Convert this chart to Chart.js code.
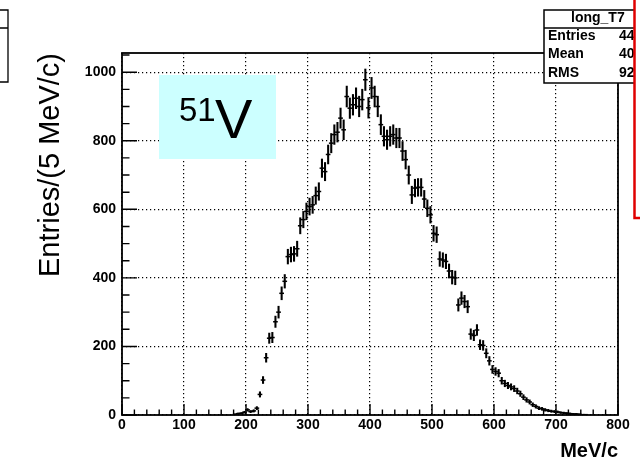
<!DOCTYPE html>
<html>
<head>
<meta charset="utf-8">
<script src="https://cdn.jsdelivr.net/npm/chart.js@4.4.1/dist/chart.umd.min.js"></script>
<style>
  html, body { margin: 0; padding: 0; background: #ffffff; }
  canvas { display: block; }
</style>
</head>
<body>
<canvas id="chart" width="640" height="461"></canvas>
<script>
// Momentum spectrum, 5 MeV/c bins (bin centres in MeV/c)
const binWidth = 5;
const binCenters = [
  182.5, 187.5, 192.5, 197.5, 202.5, 207.5, 212.5, 217.5,
  222.5, 227.5, 232.5, 237.5, 242.5, 247.5, 252.5, 257.5, 262.5, 267.5, 272.5, 277.5, 282.5,
  287.5, 292.5, 297.5, 302.5, 307.5, 312.5, 317.5, 322.5, 327.5, 332.5, 337.5, 342.5,
  347.5, 352.5, 357.5, 362.5, 367.5, 372.5, 377.5, 382.5, 387.5, 392.5, 397.5,
  402.5, 407.5, 412.5, 417.5, 422.5, 427.5, 432.5, 437.5, 442.5, 447.5,
  452.5, 457.5, 462.5, 467.5, 472.5, 477.5, 482.5, 487.5, 492.5, 497.5,
  502.5, 507.5, 512.5, 517.5, 522.5, 527.5, 532.5, 537.5, 542.5, 547.5, 552.5,
  557.5, 562.5, 567.5, 572.5, 577.5, 582.5, 587.5, 592.5, 597.5, 602.5, 607.5,
  612.5, 617.5, 622.5, 627.5, 632.5, 637.5, 642.5, 647.5, 652.5, 657.5,
  662.5, 667.5, 672.5, 677.5, 682.5, 687.5, 692.5, 697.5, 702.5, 707.5,
  712.5, 717.5, 722.5, 727.5, 732.5, 737.5, 742.5, 747.5
];
const entries = [
  2, 4, 5, 8, 15, 10, 12, 20,
  60, 102, 167, 224, 226, 272, 300, 355, 390, 462, 468, 470, 485,
  552, 570, 594, 608, 613, 640, 652, 720, 710, 760, 793, 818,
  825, 866, 832, 929, 895, 905, 924, 900, 920, 978, 896,
  954, 929, 900, 847, 813, 803, 813, 818, 808, 808,
  770, 745, 700, 642, 662, 664, 664, 630, 603, 584,
  530, 526, 455, 452, 448, 420, 402, 400, 321, 341, 331,
  316, 236, 232, 248, 205, 203, 180, 158, 133, 127, 122,
  100, 92, 86, 82, 77, 70, 62, 52, 44, 38,
  30, 25, 20, 18, 15, 13, 11, 10, 9, 7,
  6, 5, 4, 3, 3, 2, 1, 1
];

// Axis ranges and tick spacing
const xRange = [0, 800];
const yRange = [0, 1056];
const xMajorStep = 100, xMinorStep = 20;
const yMajorStep = 200, yMinorStep = 50;

// Texts
const xTitle = 'MeV/c';
const yTitle = 'Entries/(5 MeV/c)';
const isotopeMass = '51';
const isotopeSymbol = 'V';
const statsTitle = 'long_T7';
const statsLabels = ['Entries', 'Mean', 'RMS'];

// Histogram statistics
const nTot = entries.reduce((s, n) => s + n, 0);
const mean = binCenters.reduce((s, x, i) => s + x * entries[i], 0) / nTot;
const rms = Math.sqrt(binCenters.reduce((s, x, i) => s + entries[i] * (x - mean) ** 2, 0) / nTot);
const statsValues = [String(nTot), mean.toFixed(1), rms.toFixed(2)];

// Poisson error bars (vertical) and bin-width bars (horizontal)
const errorBars = binCenters.map((x, i) => {
  const e = Math.sqrt(entries[i]);
  return { x, y: [Math.max(0, entries[i] - e), entries[i] + e] };
});
const centres = binCenters.map((x, i) => ({ x, y: entries[i] }));

const FONT = "'Liberation Sans', Arial, Helvetica, sans-serif";
Chart.defaults.font.family = FONT;
Chart.defaults.color = '#000';

const frameAndLabels = {
  id: 'frameAndLabels',
  afterDraw(chart) {
    const { ctx, chartArea: a, scales: { x, y } } = chart;
    ctx.save();

    // plot frame
    ctx.strokeStyle = '#000';
    ctx.lineWidth = 1.8;
    ctx.strokeRect(a.left, a.top, a.right - a.left, a.bottom - a.top);

    // tick marks pointing into the frame
    ctx.lineWidth = 1.4;
    ctx.beginPath();
    for (let v = xRange[0]; v <= xRange[1]; v += xMinorStep) {
      const px = x.getPixelForValue(v);
      const len = v % xMajorStep === 0 ? 11 : 5.5;
      ctx.moveTo(px, a.bottom);
      ctx.lineTo(px, a.bottom - len);
    }
    for (let v = yRange[0]; v <= yRange[1]; v += yMinorStep) {
      const py = y.getPixelForValue(v);
      const len = v % yMajorStep === 0 ? 15 : 7.5;
      ctx.moveTo(a.left, py);
      ctx.lineTo(a.left + len, py);
    }
    ctx.stroke();

    // isotope label
    ctx.fillStyle = '#ccffff';
    ctx.fillRect(159, 75, 117, 84);
    ctx.fillStyle = '#000';
    ctx.textBaseline = 'alphabetic';
    ctx.textAlign = 'left';
    ctx.font = `33px ${FONT}`;
    ctx.fillText(isotopeMass, 179, 120.5);
    ctx.font = `56px ${FONT}`;
    ctx.fillText(isotopeSymbol, 215, 137.5);

    // statistics box
    ctx.fillStyle = '#fff';
    ctx.fillRect(544, 10, 120, 73);
    ctx.lineWidth = 1.5;
    ctx.strokeStyle = '#000';
    ctx.strokeRect(544, 10, 120, 73);
    ctx.beginPath();
    ctx.moveTo(544, 28); ctx.lineTo(640, 28);
    ctx.stroke();
    ctx.fillStyle = '#000';
    ctx.textBaseline = 'middle';
    ctx.font = `bold 14px ${FONT}`;
    ctx.fillText(statsTitle, 571, 18);
    const rowY = [36, 54.5, 73];
    statsLabels.forEach((t, i) => {
      ctx.fillText(t, 548, rowY[i]);
      ctx.fillText(statsValues[i], 619, rowY[i]);
    });

    // neighbouring panel boxes
    ctx.fillStyle = '#fff';
    ctx.fillRect(634.5, -5, 20, 223);
    ctx.strokeStyle = '#e00000';
    ctx.lineWidth = 2.5;
    ctx.strokeRect(634.5, -5, 20, 223);

    ctx.strokeStyle = '#000';
    ctx.lineWidth = 1.3;
    ctx.beginPath();
    ctx.moveTo(-2, 10); ctx.lineTo(8, 10); ctx.lineTo(8, 82); ctx.lineTo(-2, 82);
    ctx.moveTo(-2, 28); ctx.lineTo(8, 28);
    ctx.stroke();

    ctx.restore();
  }
};

new Chart(document.getElementById('chart'), {
  type: 'bar',
  data: {
    datasets: [
      {
        type: 'bar',
        label: 'error',
        data: errorBars,
        backgroundColor: '#000',
        borderWidth: 0,
        barThickness: 1.4
      },
      {
        type: 'scatter',
        label: 'entries',
        data: centres,
        showLine: false,
        pointStyle: 'line',
        // horizontal bar spans the bin width, plus the stroke's own overhang
        pointRadius: (c) => {
          const s = c.chart.scales.x;
          return s.getPixelForValue(binWidth / 2) - s.getPixelForValue(0) + 0.8;
        },
        pointBorderWidth: 1.5,
        pointBorderColor: '#000',
        pointBackgroundColor: '#000',
        pointHoverRadius: 0
      }
    ]
  },
  options: {
    responsive: false,
    animation: false,
    devicePixelRatio: 1,
    layout: { padding: { left: 0, right: 22, top: 53, bottom: 0 } },
    plugins: { legend: { display: false }, tooltip: { enabled: false } },
    events: [],
    scales: {
      x: {
        type: 'linear',
        min: xRange[0],
        max: xRange[1],
        offset: false,
        afterFit: (s) => { s.height = 46; },
        grid: { offset: false, color: '#000', lineWidth: 1.2, drawTicks: false },
        border: { display: false, dash: [1.2, 2.8] },
        ticks: {
          stepSize: xMajorStep,
          autoSkip: false,
          maxRotation: 0,
          includeBounds: false,
          padding: 2,
          color: '#000',
          font: { size: 14, weight: 'bold' },
          callback: (v) => String(v)
        },
        title: {
          display: true,
          text: xTitle,
          align: 'end',
          color: '#000',
          padding: { top: 0, bottom: -2 },
          font: { size: 20, weight: 'bold' }
        }
      },
      y: {
        type: 'linear',
        min: yRange[0],
        max: yRange[1],
        afterFit: (s) => { s.width = 122; },
        grid: { color: '#000', lineWidth: 1.2, drawTicks: false },
        border: { display: false, dash: [1.2, 2.8] },
        ticks: {
          stepSize: yMajorStep,
          includeBounds: false,
          padding: 6,
          color: '#000',
          font: { size: 14, weight: 'bold' },
          callback: (v) => String(v)
        },
        title: {
          display: true,
          text: yTitle,
          align: 'end',
          color: '#000',
          padding: { top: 34, bottom: 0 },
          font: { size: 29, weight: 'normal' }
        }
      }
    }
  },
  plugins: [frameAndLabels]
});
</script>
</body>
</html>
